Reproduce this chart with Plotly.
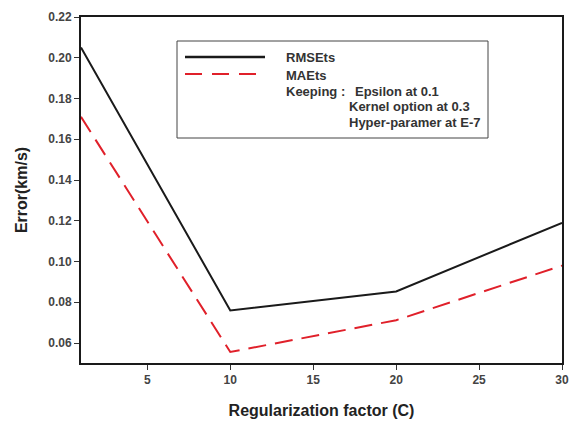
import plotly.graph_objects as go

C = [1, 10, 20, 30]
rmse = [0.205, 0.076, 0.0853, 0.119]
mae = [0.171, 0.0556, 0.0712, 0.098]
xticks = [5, 10, 15, 20, 25, 30]
yticks = [0.06, 0.08, 0.10, 0.12, 0.14, 0.16, 0.18, 0.20, 0.22]

fig = go.Figure()
fig.add_trace(go.Scatter(x=C, y=rmse, mode="lines", name="RMSEts",
                         line=dict(color="#1a1a1a", width=2)))
fig.add_trace(go.Scatter(x=C, y=mae, mode="lines", name="MAEts",
                         line=dict(color="#e0202a", width=2, dash="18px,9px")))

FAM = "Liberation Sans, Arial, sans-serif"
ax_common = dict(showline=True, linecolor="#1a1a1a", linewidth=2, mirror=True,
                 ticks="outside", ticklen=5, tickcolor="#333333", tickwidth=1,
                 showgrid=False, zeroline=False, automargin=False,
                 tickfont=dict(family=FAM, size=12, color="#444444", weight="bold"))

fig.update_layout(
    width=573, height=422,
    margin=dict(l=81, r=11, t=17, b=59),
    paper_bgcolor="white", plot_bgcolor="white",
    showlegend=False,
    font=dict(family=FAM, color="#333333"),
    xaxis=dict(range=[1, 30], tickvals=xticks, ticktext=[str(v) for v in xticks],
               title=dict(text="<b>Regularization factor (C)</b>", font=dict(size=16, color="#222222"), standoff=18),
               **ax_common),
    yaxis=dict(range=[0.0502, 0.22], tickvals=yticks, ticktext=[f"{v:.2f}" for v in yticks],
               title=dict(text="<b>Error(km/s)</b>", font=dict(size=16, color="#222222"), standoff=17),
               **ax_common),
)

def px_x(p):
    return (p - 81) / (562 - 81)

def px_y(p):
    return 1 - (p - 17) / (363 - 17)

fig.add_shape(type="rect", xref="paper", yref="paper",
              x0=px_x(177), x1=px_x(488), y0=px_y(138), y1=px_y(41),
              line=dict(color="#444444", width=1), fillcolor="white", layer="above")
fig.add_shape(type="line", xref="paper", yref="paper",
              x0=px_x(185), x1=px_x(265), y0=px_y(57), y1=px_y(57),
              line=dict(color="#1a1a1a", width=2.5))
fig.add_shape(type="line", xref="paper", yref="paper",
              x0=px_x(185), x1=px_x(265), y0=px_y(74), y1=px_y(74),
              line=dict(color="#e0202a", width=2, dash="17px,10px"))

labels = [
    ("RMSEts", 284, 58),
    ("MAEts", 284, 75),
    ("Keeping :", 284, 92),
    ("Epsilon at 0.1", 353, 92),
    ("Kernel option at 0.3", 347, 107),
    ("Hyper-paramer at E-7", 347, 122),
]
for t, x, y in labels:
    fig.add_annotation(text=f"<b>{t}</b>", xref="paper", yref="paper",
                       x=px_x(x), y=px_y(y), xanchor="left", yanchor="middle",
                       showarrow=False, font=dict(size=13, color="#333333", family=FAM))

fig.write_html("out.html")
